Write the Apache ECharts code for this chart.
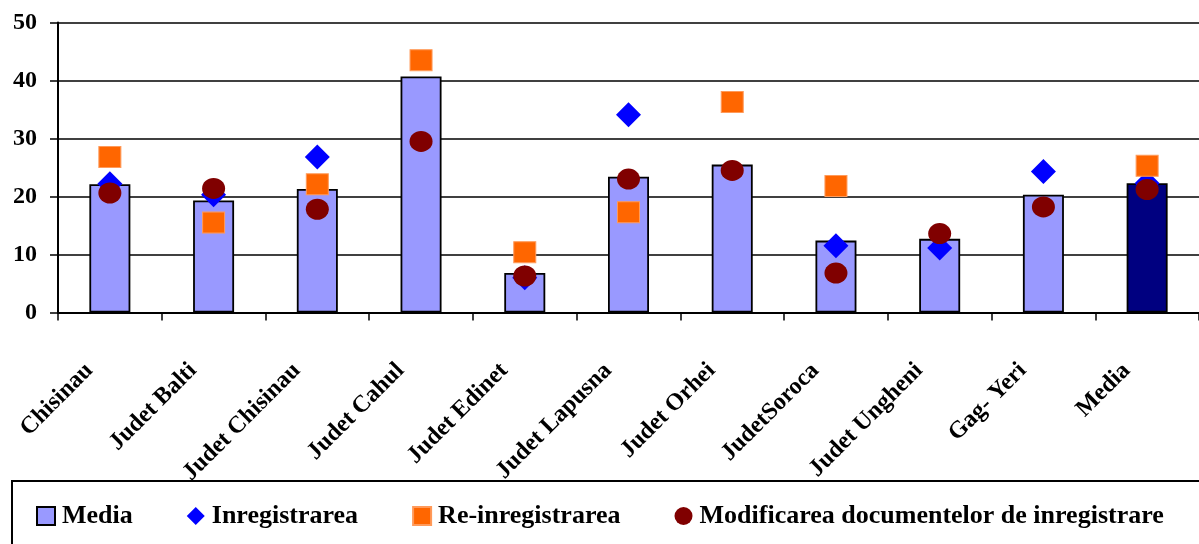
<!DOCTYPE html>
<html>
<head>
<meta charset="utf-8">
<script src="https://cdn.jsdelivr.net/npm/echarts@6/dist/echarts.min.js"></script>
<style>
  html, body { margin: 0; padding: 0; background: #ffffff; }
  #chart { width: 1199px; height: 544px; }
</style>
</head>
<body>
<div id="chart"></div>
<script>
// Regions (categories along the x axis)
const regions = [
  'Chisinau', 'Judet Balti', 'Judet Chisinau', 'Judet Cahul', 'Judet Edinet',
  'Judet Lapusna', 'Judet Orhei', 'JudetSoroca', 'Judet Ungheni', 'Gag- Yeri', 'Media'
];

// Average duration per region (bars)
const mediaValues = [22.1, 19.3, 21.3, 40.7, 6.8, 23.4, 25.5, 12.4, 12.7, 20.3, 22.3];

// Registration
const inregistrareaValues = [22.2, 20.3, 26.8, null, 6.0, 34.1, null, 11.5, 11.1, 24.3, 22.3];

// Re-registration
const reInregistrareaValues = [26.8, 15.5, 22.1, 43.5, 10.4, 17.3, 36.3, 21.8, null, null, 25.3];

// Changes to registration documents
const modificareaValues = [20.6, 21.4, 17.8, 29.5, 6.3, 23.0, 24.5, 6.8, 13.6, 18.2, 21.2];

// Value axis ticks
const yMin = 0;
const yMax = 50;
const yStep = 10;

const serifFont = "'Liberation Serif', 'Times New Roman', 'DejaVu Serif', serif";

const chart = echarts.init(document.getElementById('chart'), null, { renderer: 'canvas' });

// The overall average bar is drawn in navy, the regions in periwinkle
const barData = mediaValues.map((v, i) =>
  i === regions.length - 1 ? { value: v, itemStyle: { color: '#000080' } } : v
);

const option = {
  backgroundColor: '#ffffff',
  animation: false,
  textStyle: { fontFamily: serifFont, color: '#000' },
  grid: {
    left: 58,
    top: 22.5,
    width: 1144,
    height: 290,
    containLabel: false
  },
  legend: {
    left: 12,
    top: 481,
    width: 1240,
    orient: 'horizontal',
    padding: [22, 70, 40, 24],
    itemGap: 54,
    itemWidth: 18,
    itemHeight: 18,
    borderColor: '#000',
    borderWidth: 2,
    borderRadius: 0,
    backgroundColor: '#ffffff',
    selectedMode: false,
    textStyle: {
      fontFamily: serifFont,
      fontWeight: 'bold',
      fontSize: 26,
      color: '#000',
      padding: [0, 0, 0, 2]
    },
    data: [
      { name: 'Media', icon: 'rect', itemStyle: { borderWidth: 2 } },
      { name: 'Inregistrarea', icon: 'diamond' },
      { name: 'Re-inregistrarea', icon: 'rect' },
      { name: 'Modificarea documentelor de inregistrare', icon: 'circle' }
    ]
  },
  xAxis: {
    type: 'category',
    data: regions,
    boundaryGap: true,
    axisLine: { show: true, lineStyle: { color: '#000', width: 2 } },
    axisTick: { show: true, length: 8, alignWithLabel: false, lineStyle: { color: '#000', width: 1.5 } },
    axisLabel: {
      interval: 0,
      rotate: 45,
      margin: 34,
      padding: [0, 29, 0, 0],
      fontFamily: serifFont,
      fontWeight: 'bold',
      fontSize: 24,
      color: '#000'
    },
    splitLine: { show: false }
  },
  yAxis: {
    type: 'value',
    min: yMin,
    max: yMax,
    interval: yStep,
    axisLine: { show: true, lineStyle: { color: '#000', width: 2 } },
    axisTick: { show: true, length: 8, lineStyle: { color: '#000', width: 1.5 } },
    axisLabel: {
      margin: 21,
      fontFamily: serifFont,
      fontWeight: 'bold',
      fontSize: 24,
      color: '#000'
    },
    splitLine: { show: true, lineStyle: { color: '#000', width: 1.6 } }
  },
  series: [
    {
      name: 'Media',
      type: 'bar',
      data: barData,
      barWidth: 41,
      itemStyle: {
        color: '#9999FF',
        borderColor: '#000',
        borderWidth: 1.8
      },
      z: 2
    },
    {
      name: 'Inregistrarea',
      type: 'scatter',
      data: inregistrareaValues,
      symbol: 'diamond',
      symbolSize: [25, 25],
      itemStyle: { color: '#0000FF', opacity: 1 },
      z: 3
    },
    {
      name: 'Re-inregistrarea',
      type: 'scatter',
      data: reInregistrareaValues,
      symbol: 'rect',
      symbolSize: [22, 21],
      itemStyle: { color: '#FF6600', borderColor: '#FF9A5A', borderWidth: 1, opacity: 1 },
      z: 4
    },
    {
      name: 'Modificarea documentelor de inregistrare',
      type: 'scatter',
      data: modificareaValues,
      symbol: 'circle',
      symbolSize: [23, 21],
      itemStyle: { color: '#800000', opacity: 1 },
      z: 5
    }
  ]
};

chart.setOption(option);
</script>
</body>
</html>
